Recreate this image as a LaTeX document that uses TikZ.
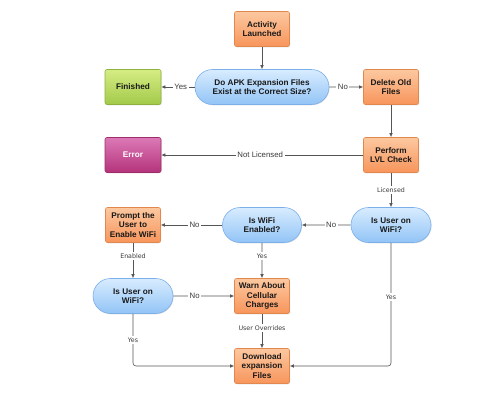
\documentclass[tikz,border=0pt]{standalone}
\usepackage{fontspec}
\setmainfont{Liberation Sans}
\newfontfamily\lucida{DejaVu Sans}
\usetikzlibrary{shapes.misc,shadows,arrows.meta}
\definecolor{orT}{HTML}{FCC8A0}
\definecolor{orB}{HTML}{F7955B}
\definecolor{orD}{HTML}{E2884E}
\definecolor{blT}{HTML}{D8ECFF}
\definecolor{blB}{HTML}{92C4F6}
\definecolor{blD}{HTML}{7BAFEA}
\definecolor{grT}{HTML}{D6EC84}
\definecolor{grB}{HTML}{A2C94A}
\definecolor{grD}{HTML}{8DB23D}
\definecolor{mgT}{HTML}{DC79B6}
\definecolor{mgB}{HTML}{B4337A}
\definecolor{mgD}{HTML}{9E2D6A}
\definecolor{lineC}{HTML}{555555}
\definecolor{lblC}{HTML}{3A3A3A}
\tikzset{
  base/.style={font=\fontsize{8.2}{9.6}\selectfont\bfseries, align=center, text=black!90,
    line width=0.6pt, drop shadow={opacity=0.25, shadow xshift=0.6pt, shadow yshift=-0.8pt}},
  orbox/.style={base, rectangle, rounded corners=2pt, minimum width=55pt, minimum height=35pt,
    inner sep=1pt, draw=orD, top color=orT, bottom color=orB},
  grbox/.style={base, rectangle, rounded corners=2pt, minimum width=56pt, minimum height=35pt,
    draw=grD, top color=grT, bottom color=grB},
  mgbox/.style={base, rectangle, rounded corners=2pt, minimum width=56pt, minimum height=35pt,
    draw=mgD, top color=mgT, bottom color=mgB, text=white},
  decide/.style={base, rounded rectangle, minimum height=35pt, inner sep=1pt,
    draw=blD, top color=blT, bottom color=blB},
  conn/.style={draw=lineC, line width=0.6pt, -{Latex[length=4pt,width=3.5pt]}},
  lbl/.style={fill=white, text=lblC, font=\fontsize{7.8}{8}\selectfont, inner sep=1.5pt},
  lbs/.style={fill=white, text=lblC, font=\lucida\fontsize{6.3}{7}\selectfont, inner sep=1.5pt}
}
\begin{document}
\begin{tikzpicture}[x=1pt,y=-1pt]
\useasboundingbox (0,0) rectangle (500,400);
\node[orbox] (act) at (262,29) {Activity\\Launched};
\node[decide, minimum width=136pt] (apk) at (262,87) {Do APK Expansion Files\\Exist at the Correct Size?};
\node[grbox] (fin) at (133,87) {Finished};
\node[orbox] (del) at (391,87) {Delete Old\\Files};
\node[mgbox] (err) at (133,155) {Error};
\node[orbox] (lvl) at (391,155) {Perform\\LVL Check};
\node[decide, minimum width=82pt] (wifiR) at (391,225) {Is User on\\WiFi?};
\node[decide, minimum width=81pt] (wen) at (262,225) {Is WiFi\\Enabled?};
\node[orbox] (prompt) at (133,225) {Prompt the\\User to\\Enable WiFi};
\node[decide, minimum width=82pt] (wifiL) at (133,296) {Is User on\\WiFi?};
\node[orbox] (warn) at (262,296) {Warn About\\Cellular\\Charges};
\node[orbox] (dl) at (262,366) {Download\\expansion\\Files};

\draw[conn] (act) -- (apk);
\draw[conn] (apk) -- node[lbl, pos=0.42] {Yes} (fin);
\draw[conn] (apk) -- node[lbl, pos=0.4] {No} (del);
\draw[conn] (del) -- (lvl);
\draw[conn] (lvl) -- node[lbl, pos=0.51] {Not Licensed} (err);
\draw[conn] (lvl) -- node[lbs, pos=0.5] {Licensed} (wifiR);
\draw[conn] (wifiR) -- node[lbl, pos=0.4] {No} (wen);
\draw[conn] (wen) -- node[lbl, pos=0.45] {No} (prompt);
\draw[conn] (prompt) -- node[lbs, pos=0.38] {Enabled} (wifiL);
\draw[conn] (wen) -- node[lbs, pos=0.38] {Yes} (warn);
\draw[conn] (wifiL) -- node[lbl, pos=0.35] {No} (warn);
\draw[conn] (warn) -- node[lbs, pos=0.42] {User Overrides} (dl);
\draw[conn, rounded corners=3pt] (wifiL) |- node[lbs, pos=0.25] {Yes} (dl);
\draw[conn, rounded corners=3pt] (wifiR) |- node[lbs, pos=0.22] {Yes} (dl);
\end{tikzpicture}
\end{document}
